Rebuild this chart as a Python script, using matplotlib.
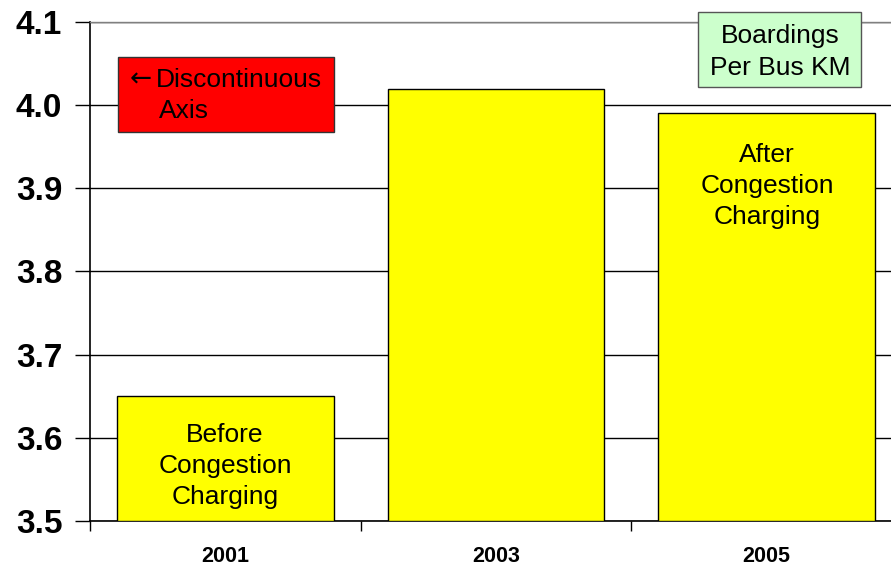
import matplotlib
matplotlib.use("Agg")
import matplotlib.pyplot as plt
from matplotlib.patches import Rectangle

plt.rcParams['font.family'] = ['Liberation Sans', 'DejaVu Sans']

years = ["2001", "2003", "2005"]
boardings = [3.65, 4.02, 3.99]
y_ticks = [3.5, 3.6, 3.7, 3.8, 3.9, 4.0, 4.1]
y_tick_labels = ["3.5", "3.6", "3.7", "3.8", "3.9", "4.0", "4.1"]
base = 3.5

W, H = 891, 569
fig = plt.figure(figsize=(W / 100, H / 100), dpi=100)
ax = fig.add_axes([90 / W, (H - 521) / H, (902 - 90) / W, (521 - 22) / H])

x = list(range(len(years)))
ax.bar(x, [v - base for v in boardings], bottom=base, width=0.8,
       color="#FFFF00", edgecolor="black", linewidth=1.0, zorder=3)

ax.set_xlim(-0.5, len(years) - 0.5)
ax.set_ylim(3.5, 4.1)
ax.set_yticks(y_ticks)
ax.set_yticklabels(y_tick_labels, fontsize=24, fontweight="bold")
ax.set_xticks(x)
ax.set_xticklabels(years, fontsize=15.5, fontweight="bold")
ax.tick_params(axis="x", length=0, pad=18)
ax.tick_params(axis="y", length=11, width=1, pad=9)
# category separator ticks
ax.set_xticks([-0.5, 0.5, 1.5, 2.5], minor=True)
ax.tick_params(axis="x", which="minor", length=7, width=1, direction="out")

ax.yaxis.grid(True, color="black", linewidth=1.0, zorder=1)
ax.set_axisbelow(True)
for s in ["left", "bottom"]:
    ax.spines[s].set_color("black")
    ax.spines[s].set_linewidth(1.2)
ax.spines["top"].set_color("#808080")
ax.spines["right"].set_color("#808080")
ax.spines["top"].set_linewidth(1.0)

def fx(px):
    return px / W

def fy(py):
    return (H - py) / H

FS = 19
LS = 1.38

# Red "Discontinuous Axis" box
fig.patches.append(Rectangle((fx(118), fy(132)), fx(334) - fx(118), fy(57) - fy(132),
                             transform=fig.transFigure, facecolor="#FF0000",
                             edgecolor="#333333", linewidth=1.0, zorder=5))
fig.text(fx(130), fy(80), "\u2190", fontsize=19, ha="left", va="center",
         family="DejaVu Sans", zorder=6)
fig.text(fx(156), fy(80), "Discontinuous", fontsize=FS, ha="left", va="center", zorder=6)
fig.text(fx(159), fy(111), "Axis", fontsize=FS, ha="left", va="center", zorder=6)

# Green legend-like box
fig.patches.append(Rectangle((fx(698), fy(87)), fx(861) - fx(698), fy(12) - fy(87),
                             transform=fig.transFigure, facecolor="#CCFFCC",
                             edgecolor="#555555", linewidth=1.0, zorder=5))
fig.text(fx(780), fy(52), "Boardings\nPer Bus KM", fontsize=FS, ha="center", va="center",
         linespacing=LS, zorder=6)

# Bar annotations
fig.text(fx(225), fy(466), "Before\nCongestion\nCharging", fontsize=FS, ha="center",
         va="center", linespacing=LS, zorder=6)
fig.text(fx(767), fy(186), "After\nCongestion\nCharging", fontsize=FS, ha="center",
         va="center", linespacing=LS, zorder=6)

fig.savefig("out.png", dpi=100)
